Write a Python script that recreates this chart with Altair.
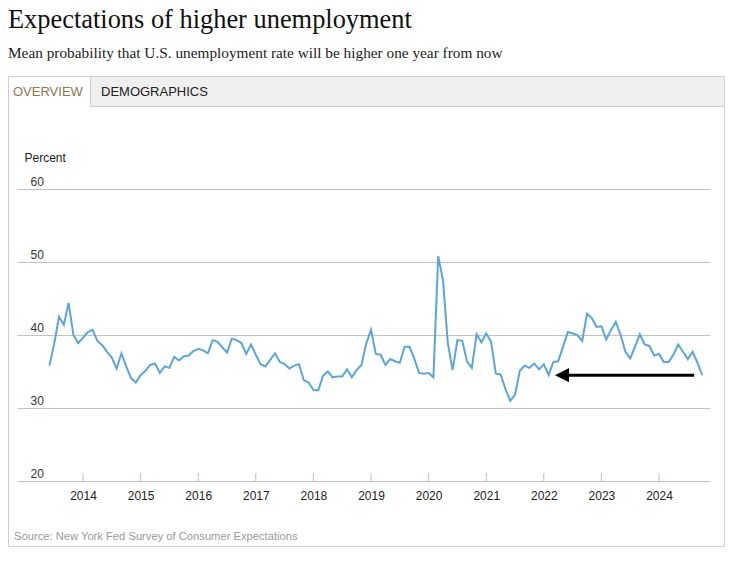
import altair as alt
import pandas as pd

# ---- data ----
START_YEAR, START_MONTH = 2013, 6
values = [
    35.8, 38.8, 42.5, 41.4, 44.4, 40.0, 38.9,                                  # 2013 Jun-Dec
    39.6, 40.4, 40.7, 39.2, 38.6, 37.7, 36.9, 35.4, 37.5, 35.7, 34.1, 33.5,    # 2014
    34.5, 35.1, 35.9, 36.1, 34.8, 35.7, 35.5, 37.0, 36.5, 37.1, 37.2, 37.8,    # 2015
    38.1, 37.9, 37.5, 39.3, 39.1, 38.3, 37.6, 39.5, 39.3, 38.9, 37.4, 38.7,    # 2016
    37.3, 36.0, 35.7, 36.6, 37.5, 36.3, 36.0, 35.4, 35.8, 36.0, 33.8, 33.5,    # 2017
    32.5, 32.4, 34.4, 35.0, 34.2, 34.3, 34.3, 35.3, 34.2, 35.2, 35.9, 38.8,    # 2018
    40.7, 37.4, 37.3, 35.9, 36.7, 36.4, 36.2, 38.4, 38.4, 36.8, 34.8, 34.7,    # 2019
    34.8, 34.2, 50.8, 47.5, 38.9, 35.2, 39.3, 39.2, 36.4, 35.5, 40.1, 39.0,    # 2020
    40.2, 39.1, 34.7, 34.6, 32.6, 31.0, 31.8, 35.1, 35.8, 35.5, 36.1, 35.3,    # 2021
    36.0, 34.5, 36.3, 36.4, 38.4, 40.4, 40.2, 40.0, 39.2, 42.9, 42.3, 41.1,    # 2022
    41.2, 39.4, 40.7, 41.8, 40.0, 37.7, 36.8, 38.4, 40.1, 38.7, 38.5, 37.2,    # 2023
    37.4, 36.3, 36.3, 37.3, 38.7, 37.7, 36.7, 37.7, 36.2, 34.5,                # 2024 Jan-Oct
]
year_ticks = list(range(2014, 2025))
y_ticks = [20, 30, 40, 50, 60]

# arrow annotation (data coordinates)
arrow_tail_x = 2024.61
arrow_base_x = 2022.33
arrow_head_x = 2022.316
arrow_y = 34.5

TITLE = "Expectations of higher unemployment"
SUBTITLE = "Mean probability that U.S. unemployment rate will be higher one year from now"
SOURCE = "Source: New York Fed Survey of Consumer Expectations"

# ---- build tables ----
t = []
y, m = START_YEAR, START_MONTH
for _ in values:
    t.append(y + (m - 1) / 12)
    m += 1
    if m > 12:
        m = 1
        y += 1
df = pd.DataFrame({"t": t, "v": values})
ticks_df = pd.DataFrame({"t": year_ticks})
arrow_df = pd.DataFrame({"x": [arrow_base_x], "x2": [arrow_tail_x], "y": [arrow_y]})
head_df = pd.DataFrame({"x": [arrow_head_x], "y": [arrow_y]})
one = pd.DataFrame({"a": [0]})

SANS = "Liberation Sans"
SERIF = "Liberation Serif"

xscale = alt.Scale(domain=[2012.854, 2024.885], nice=False, zero=False)
yscale = alt.Scale(domain=[20, 60], nice=False, zero=False)

line = alt.Chart(df).mark_line(color="#5ba6d6", strokeWidth=2).encode(
    x=alt.X("t:Q", scale=xscale,
            axis=alt.Axis(values=year_ticks, format="d", grid=False, domain=False,
                          ticks=False, tickSize=0, labelPadding=14, labelBaseline="middle",
                          labelFont=SANS, labelFontSize=12, labelColor="#222",
                          labelFlush=False, title="")),
    y=alt.Y("v:Q", scale=yscale,
            axis=alt.Axis(values=y_ticks, grid=True, gridColor="#c2c2c2", gridWidth=1,
                          domain=False, ticks=False, tickSize=0, labelAlign="left",
                          labelPadding=-13, labelBaseline="alphabetic", labelOffset=-4,
                          labelFont=SANS, labelFontSize=12, labelColor="#333",
                          labelFlush=False,
                          title="Percent", titleAngle=0, titleAlign="left",
                          titleBaseline="middle", titleX=7, titleY=-32, titleFont=SANS,
                          titleFontSize=12, titleFontWeight="normal", titleColor="#222")),
)

year_marks = alt.Chart(ticks_df).mark_rule(color="#bdbdbd", strokeWidth=1).encode(
    x=alt.X("t:Q", scale=xscale), y=alt.value(284), y2=alt.value(292)
)

arrow_line = alt.Chart(arrow_df).mark_rule(color="#000", strokeWidth=3).encode(
    x=alt.X("x:Q", scale=xscale), x2="x2:Q", y=alt.Y("y:Q", scale=yscale)
)
arrow_head = alt.Chart(head_df).mark_point(
    shape="M-1,0L1,-1L1,1Z", filled=True, color="#000", opacity=1, size=200
).encode(x=alt.X("x:Q", scale=xscale), y=alt.Y("y:Q", scale=yscale))

# ---- page decoration (pixel positions relative to plot area) ----
RIGHT = 707.5
tab_bar = alt.Chart(one).mark_rect(fill="#efefef", strokeWidth=0).encode(
    x=alt.value(73.5), x2=alt.value(RIGHT), y=alt.value(-112.5), y2=alt.value(-82.5)
)
tab_line = alt.Chart(one).mark_rule(color="#cfcfcf", strokeWidth=1).encode(
    x=alt.value(73.5), x2=alt.value(RIGHT), y=alt.value(-82.5)
)
tab_div = alt.Chart(one).mark_rule(color="#cfcfcf", strokeWidth=1).encode(
    x=alt.value(73.5), y=alt.value(-112.5), y2=alt.value(-82.5)
)
box = alt.Chart(one).mark_rect(fillOpacity=0, stroke="#cfcfcf", strokeWidth=1).encode(
    x=alt.value(-8.5), x2=alt.value(RIGHT), y=alt.value(-112.5), y2=alt.value(357.5)
)

def txt(s, x, y, size, color, font, baseline="alphabetic"):
    return alt.Chart(one).mark_text(text=s, align="left", baseline=baseline, font=font,
                                    fontSize=size, color=color).encode(
        x=alt.value(x), y=alt.value(y))

title = txt(TITLE, -9, -161, 26.4, "#111", SERIF)
subtitle = txt(SUBTITLE, -9, -131.5, 15.3, "#222", SERIF)
tab1 = txt("OVERVIEW", -4, -93.5, 13, "#8b7650", SANS)
tab2 = txt("DEMOGRAPHICS", 84, -93.5, 13, "#222", SANS)
source = txt(SOURCE, -3, 348, 11.2, "#999", SANS, baseline="middle")

chart = alt.layer(
    tab_bar, tab_line, tab_div, box, line, year_marks, arrow_line, arrow_head,
    title, subtitle, tab1, tab2, source
).properties(
    width=693, height=292,
    autosize=alt.AutoSizeParams(type="none"),
    padding={"left": 9, "top": 181, "right": 15, "bottom": 67},
    background="white",
).configure_view(strokeWidth=0)

chart.save("out.html", embed_options={"renderer": "svg", "actions": False})
